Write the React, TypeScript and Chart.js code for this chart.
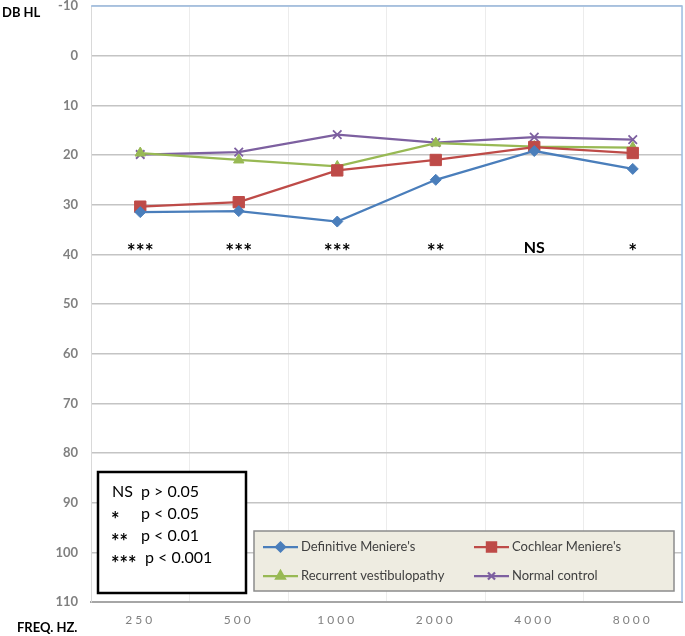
import React, { useEffect, useRef } from 'react';
import { Chart, registerables } from 'chart.js';
import { drawPoint } from 'chart.js/helpers';

Chart.register(...registerables);

const frequencies = ['250', '500', '1000', '2000', '4000', '8000'];
const definitiveMeniere = [31.5, 31.3, 33.4, 25.0, 19.2, 22.8];
const cochlearMeniere = [30.4, 29.5, 23.1, 21.0, 18.4, 19.6];
const recurrentVestibulopathy = [19.6, 21.0, 22.3, 17.6, 18.3, 18.5];
const normalControl = [19.9, 19.4, 15.9, 17.5, 16.4, 16.9];
const significance = ['***', '***', '***', '**', 'NS', '*'];
const significanceLevel = 38;
const pSymbols = ['NS', '*', '**', '***'];
const pTexts = ['p > 0.05', 'p < 0.05', 'p < 0.01', 'p < 0.001'];
const yTitle = 'DB HL';
const xTitle = 'FREQ. HZ.';

const FONT = 'Lato, "Open Sans", sans-serif';

const overlayPlugin = {
  id: 'overlay',
  afterLayout(chart: any) {
    const s: any = chart.scales.x;
    if (!s.__ls) {
      const orig = s.drawLabels.bind(s);
      s.drawLabels = (area: any) => {
        const ctx: any = chart.ctx;
        ctx.save();
        ctx.letterSpacing = '3px';
        orig(area);
        ctx.restore();
      };
      s.__ls = true;
    }
  },
  afterDraw(chart: any) {
    const ctx: CanvasRenderingContext2D = chart.ctx;
    const { chartArea: a, scales } = chart;
    const xs = scales.x;
    const ys = scales.y;
    ctx.save();
    // plot border top/right
    ctx.strokeStyle = '#9fbfe3';
    ctx.lineWidth = 1.5;
    ctx.beginPath();
    ctx.moveTo(a.left, a.top);
    ctx.lineTo(a.right, a.top);
    ctx.lineTo(a.right, a.bottom);
    ctx.stroke();

    // axis titles
    ctx.fillStyle = '#000';
    ctx.font = `bold 13px ${FONT}`;
    ctx.textAlign = 'left';
    ctx.textBaseline = 'middle';
    ctx.fillText(yTitle, 2, 13);
    ctx.fillText(xTitle, 17, 628);

    // significance marks
    const sy = ys.getPixelForValue(significanceLevel);
    ctx.textAlign = 'center';
    ctx.textBaseline = 'alphabetic';
    significance.forEach((lab, i) => {
      const x = xs.getPixelForValue(i);
      if (lab.includes('*')) {
        ctx.font = `bold 21px ${FONT}`;
        ctx.fillText(lab, x, sy + 15);
      } else {
        ctx.font = `bold 16px ${FONT}`;
        ctx.fillText(lab, x, sy + 9);
      }
    });

    // p-value box
    const bx = 98, by = 472, bw = 148, bh = 121;
    ctx.fillStyle = '#fff';
    ctx.fillRect(bx, by, bw, bh);
    ctx.strokeStyle = '#000';
    ctx.lineWidth = 2.5;
    ctx.strokeRect(bx, by, bw, bh);
    ctx.fillStyle = '#000';
    ctx.textAlign = 'left';
    ctx.textBaseline = 'alphabetic';
    const rowsY = [497, 519, 541, 563];
    pSymbols.forEach((sym, i) => {
      if (sym.includes('*')) {
        ctx.font = `bold 20px ${FONT}`;
        ctx.fillText(sym, 111, rowsY[i] + 8);
      } else {
        ctx.font = `16px ${FONT}`;
        ctx.fillText(sym, 112, rowsY[i]);
      }
      ctx.font = `16px ${FONT}`;
      ctx.fillText(pTexts[i], i === 3 ? 145 : 141, rowsY[i]);
    });

    // legend box
    const lx = 254, ly = 531, lw = 420, lh = 60;
    ctx.fillStyle = '#eeece1';
    ctx.fillRect(lx, ly, lw, lh);
    ctx.strokeStyle = '#8c8c8c';
    ctx.lineWidth = 1.5;
    ctx.strokeRect(lx, ly, lw, lh);
    const pos = [
      [263, 547],
      [474, 547],
      [263, 576],
      [474, 576],
    ];
    const legendRadius = [4.5, 6.5, 5, 5];
    chart.data.datasets.forEach((ds: any, i: number) => {
      const [x0, y0] = pos[i];
      ctx.strokeStyle = ds.borderColor;
      ctx.lineWidth = 2.25;
      ctx.beginPath();
      ctx.moveTo(x0, y0);
      ctx.lineTo(x0 + 35, y0);
      ctx.stroke();
      ctx.fillStyle = ds.pointBackgroundColor;
      ctx.strokeStyle = ds.borderColor;
      drawPoint(ctx, {
        pointStyle: ds.pointStyle,
        radius: legendRadius[i],
        rotation: 0,
        borderWidth: ds.pointBorderWidth,
      } as any, x0 + 17.5, y0);
      ctx.fillStyle = '#404040';
      ctx.font = `13px ${FONT}`;
      ctx.textAlign = 'left';
      ctx.textBaseline = 'middle';
      ctx.fillText(ds.label, x0 + 38, y0);
    });
    ctx.restore();
  },
};

export default function App() {
  const ref = useRef<HTMLCanvasElement>(null);
  useEffect(() => {
    const mk = (label: string, data: number[], color: string, style: string, r: number, bw = 1) => ({
      label,
      data,
      borderColor: color,
      backgroundColor: color,
      pointBackgroundColor: color,
      pointBorderColor: color,
      pointStyle: style,
      pointRadius: r,
      pointBorderWidth: bw,
      borderWidth: 2.25,
      tension: 0,
    });
    const chart = new Chart(ref.current!, {
      type: 'line',
      data: {
        labels: frequencies,
        datasets: [
          mk("Definitive Meniere's", definitiveMeniere, '#4A7EBB', 'rectRot', 5.5),
          mk("Cochlear Meniere's", cochlearMeniere, '#BE4B48', 'rect', 8),
          mk('Recurrent vestibulopathy', recurrentVestibulopathy, '#98B954', 'triangle', 6),
          mk('Normal control', normalControl, '#7D60A0', 'crossRot', 6, 1.8),
        ] as any,
      },
      options: {
        responsive: false,
        animation: false,
        layout: { autoPadding: false, padding: { top: 6, right: 3, left: 0, bottom: 0 } },
        plugins: { legend: { display: false }, tooltip: { enabled: false } },
        scales: {
          x: {
            offset: true,
            grid: { offset: true, color: '#ececec', lineWidth: 1, drawTicks: false },
            border: { color: '#a6a6a6', width: 2 },
            ticks: {
              padding: 11,
              color: '#808080',
              font: { family: FONT, size: 12 },
              maxRotation: 0,
            },
            afterFit: (s: any) => {
              s.height = 34;
              s.paddingLeft = 0;
              s.paddingRight = 0;
              s.paddingTop = 0;
              s.paddingBottom = 0;
            },
          },
          y: {
            reverse: true,
            min: -10,
            max: 110,
            grid: { color: '#c4c4c4', lineWidth: 1.5, drawTicks: false },
            border: { color: '#d9d9d9', width: 1 },
            ticks: {
              stepSize: 10,
              padding: 13,
              color: '#808080',
              font: { family: FONT, size: 13, weight: 'bold' },
            },
            afterFit: (s: any) => {
              s.width = 91;
              s.paddingTop = 0;
              s.paddingBottom = 0;
              s.paddingLeft = 0;
              s.paddingRight = 0;
            },
          },
        },
      },
      plugins: [overlayPlugin],
    } as any);
    return () => chart.destroy();
  }, []);
  return (
    <div style={{ position: 'fixed', left: 0, top: 0, width: 685, height: 636, background: '#fff' }}>
      <canvas ref={ref} width={685} height={636} style={{ display: 'block', width: 685, height: 636 }} />
    </div>
  );
}
